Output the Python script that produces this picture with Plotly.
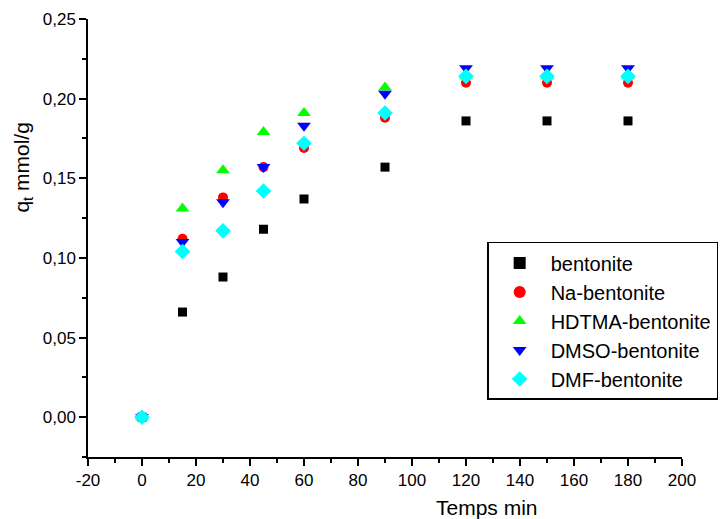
import plotly.graph_objects as go

time_min = [0, 15, 30, 45, 60, 90, 120, 150, 180]
bentonite = [0.0, 0.066, 0.088, 0.118, 0.137, 0.157, 0.186, 0.186, 0.186]
na_bentonite = [0.0, 0.112, 0.138, 0.157, 0.169, 0.188, 0.210, 0.210, 0.210]
hdtma_bentonite = [0.0, 0.131, 0.155, 0.179, 0.191, 0.207, 0.214, 0.214, 0.214]
dmso_bentonite = [0.0, 0.110, 0.135, 0.157, 0.183, 0.203, 0.219, 0.219, 0.219]
dmf_bentonite = [0.0, 0.104, 0.117, 0.142, 0.172, 0.191, 0.214, 0.214, 0.214]

x_tick_vals = [-20, 0, 20, 40, 60, 80, 100, 120, 140, 160, 180, 200]
x_tick_text = ["-20", "0", "20", "40", "60", "80", "100", "120", "140", "160", "180", "200"]

series = [
    ("bentonite", bentonite, "square", "#000000", 9),
    ("Na-bentonite", na_bentonite, "circle", "#ff0000", 10),
    ("HDTMA-bentonite", hdtma_bentonite, "triangle-up", "#00ff00", 12),
    ("DMSO-bentonite", dmso_bentonite, "triangle-down", "#0000ff", 12),
    ("DMF-bentonite", dmf_bentonite, "diamond", "#00ffff", 12),
]

fig = go.Figure()
for name, vals, sym, col, sz in series:
    fig.add_trace(go.Scatter(
        x=time_min, y=vals, mode="markers", name=name,
        marker=dict(symbol=sym, color=col, size=sz, line=dict(width=0)),
    ))

font_family = "Liberation Sans, Arial, sans-serif"
axis_common = dict(
    showline=True, linecolor="black", linewidth=1.5, mirror=False,
    showgrid=False, zeroline=False,
    ticks="outside", ticklen=7, tickwidth=1.5, tickcolor="black",
    tickfont=dict(family=font_family, size=17, color="black"),
)
fig.update_xaxes(range=[-20, 200], tickvals=x_tick_vals, ticktext=x_tick_text,
                 minor=dict(ticks="outside", ticklen=4, tickwidth=1.5, tickcolor="black", dtick=10, tick0=0),
                 **axis_common)
fig.update_yaxes(range=[-0.025, 0.25], dtick=0.05, tick0=0, tickformat=".2f",
                 minor=dict(ticks="outside", ticklen=4, tickwidth=1.5, tickcolor="black", dtick=0.025),
                 **axis_common)

fig.add_annotation(text="Temps min", xref="paper", yref="paper", x=0.672, y=-0.116,
                   xanchor="center", yanchor="middle",
                   showarrow=False, font=dict(family=font_family, size=21, color="black"))
fig.add_annotation(text="q<sub>t</sub> mmol/g", xref="paper", yref="paper", x=-0.11, y=0.66,
                   xanchor="center", yanchor="middle",
                   textangle=-90, showarrow=False,
                   font=dict(family=font_family, size=21, color="black"))

fig.update_layout(
    width=725, height=519,
    margin=dict(l=88, r=43, t=19, b=62, autoexpand=False),
    plot_bgcolor="white", paper_bgcolor="white",
    separators=", ",
    showlegend=True,
    legend=dict(x=0.672, y=0.491, xanchor="left", yanchor="top",
                bordercolor="black", borderwidth=1.5, bgcolor="white",
                font=dict(family=font_family, size=20, color="black"),
                tracegroupgap=0, itemsizing="constant", itemwidth=52),
)

fig.write_html("out.html")
